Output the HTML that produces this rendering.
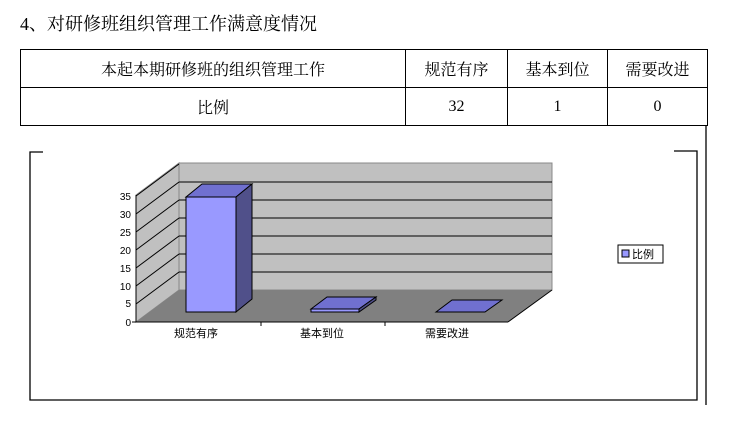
<!DOCTYPE html>
<html><head><meta charset="utf-8"><style>
body{margin:0;width:730px;height:430px;background:#fff;overflow:hidden;position:relative;font-family:"Liberation Serif","Noto Serif CJK SC",serif;}
.t{position:absolute;left:20px;top:10px;font-size:18px;color:#000;white-space:nowrap}
table{position:absolute;left:20px;top:49px;border-collapse:collapse;font-size:16px}
td{border:1.3px solid #000;text-align:center;height:37px;padding:0}
</style></head><body>
<div class="t">4、对研修班组织管理工作满意度情况</div>
<table><tr><td style="width:384px">本起本期研修班的组织管理工作</td><td style="width:101px">规范有序</td><td style="width:99px">基本到位</td><td style="width:99px">需要改进</td></tr>
<tr><td>比例</td><td>32</td><td>1</td><td>0</td></tr></table>
<svg width="730" height="430" style="position:absolute;left:0;top:0" font-family="Liberation Sans,Noto Sans CJK SC,sans-serif">
<g stroke="#000" stroke-width="1.3" fill="none">
<line x1="706" y1="126" x2="706" y2="405"/>
<polyline points="43,152 30,152 30,400 697,400 697,151 674,151"/>
</g>
<polygon points="179,163 552,163 552,290 179,290" fill="#c0c0c0" stroke="#888" stroke-width="1"/>
<polygon points="136,195 179,163 179,290 136,322" fill="#c0c0c0" stroke="#888" stroke-width="1"/>
<polygon points="136,322 179,290 552,290 508,322" fill="#808080"/>
<g stroke="#000" stroke-width="1">
<line x1="179" y1="182" x2="552" y2="182"/><line x1="179" y1="200" x2="552" y2="200"/><line x1="179" y1="218" x2="552" y2="218"/><line x1="179" y1="236" x2="552" y2="236"/><line x1="179" y1="254" x2="552" y2="254"/><line x1="179" y1="272" x2="552" y2="272"/>
<line x1="136" y1="214" x2="179" y2="182"/><line x1="136" y1="232" x2="179" y2="200"/><line x1="136" y1="250" x2="179" y2="218"/><line x1="136" y1="268" x2="179" y2="236"/><line x1="136" y1="286" x2="179" y2="254"/><line x1="136" y1="304" x2="179" y2="272"/>
<line x1="136" y1="196" x2="179" y2="164"/>
<line x1="136" y1="195" x2="136" y2="322"/><line x1="136" y1="322" x2="508" y2="322"/><line x1="508" y1="322" x2="552" y2="290"/>
<line x1="261" y1="322" x2="261" y2="326"/><line x1="385" y1="322" x2="385" y2="326"/>
<line x1="132" y1="322" x2="136" y2="322"/>
</g>
<g stroke="#000" stroke-width="1">
<polygon points="186,197 202,184 252,184 236,197" fill="#7070d0"/>
<polygon points="236,197 252,184 252,299 236,312" fill="#50508a"/>
<rect x="186" y="197" width="50" height="115" fill="#9999ff"/>
<polygon points="311,309 327,297 376,297 359,309" fill="#7070d0"/>
<polygon points="359,309 376,297 376,300 359,312" fill="#50508a"/>
<rect x="311" y="309" width="48" height="3" fill="#9999ff"/>
<polygon points="436,312 452,300 502,300 485,312" fill="#7070d0"/>
</g>
<g font-size="10" text-anchor="end" fill="#000">
<text x="131" y="200">35</text><text x="131" y="218">30</text><text x="131" y="236">25</text><text x="131" y="254">20</text><text x="131" y="272">15</text><text x="131" y="290">10</text><text x="131" y="307">5</text><text x="131" y="326">0</text>
</g>
<g font-size="11" text-anchor="middle" fill="#000">
<text x="196" y="337">规范有序</text><text x="322" y="337">基本到位</text><text x="447" y="337">需要改进</text>
</g>
<rect x="618" y="245" width="45" height="18" fill="#fff" stroke="#000" stroke-width="1"/>
<rect x="622" y="250" width="7" height="7" fill="#9999ff" stroke="#000" stroke-width="1"/>
<text x="632" y="258" font-size="11">比例</text>
</svg>
</body></html>
